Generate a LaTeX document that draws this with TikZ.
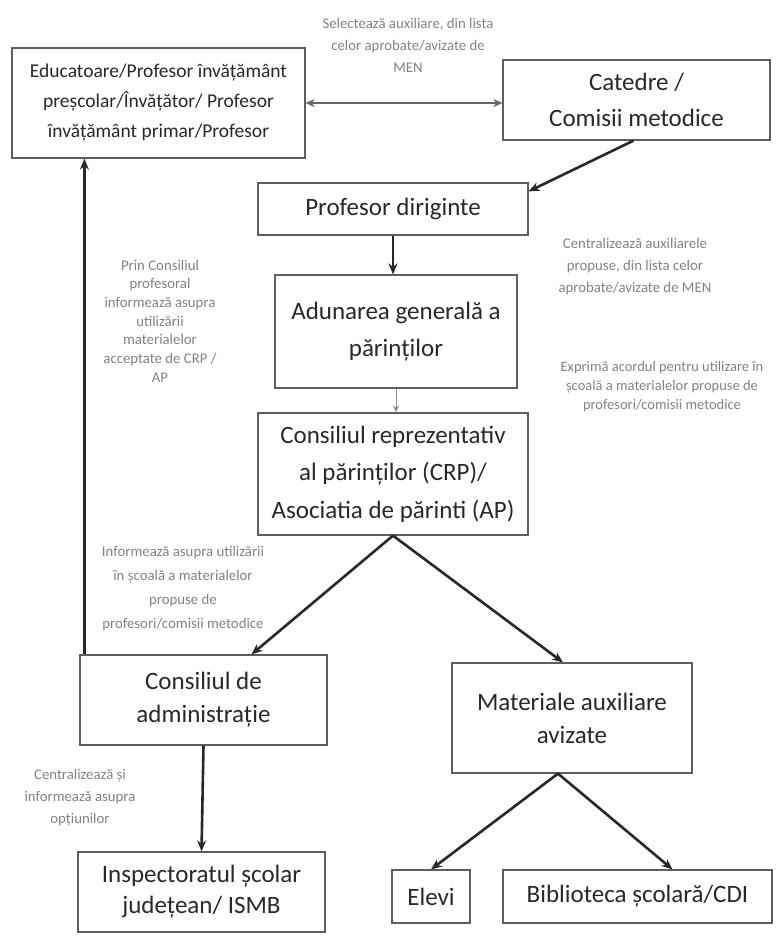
\documentclass[tikz,border=0pt]{standalone}
\usepackage{fontspec}
\setmainfont{Carlito}
\usepackage{tikz}
\usetikzlibrary{arrows.meta, positioning}
\definecolor{boxline}{HTML}{5E5E5E}
\definecolor{inkdark}{HTML}{262926}
\definecolor{notegray}{HTML}{828282}

\begin{document}
\begin{tikzpicture}[
  x=1pt, y=-1pt,
  unit/.style={rectangle, draw=boxline, line width=1.2pt, inner sep=0pt, align=center,
    text=inkdark, font=\fontsize{25}{37.5}\selectfont},
  note/.style={align=center, text=notegray, font=\fontsize{14.8}{22}\selectfont},
  arrow/.style={-{Stealth[length=11pt, width=9pt]}, line width=2.6pt, draw=inkdark},
  twoway/.style={{Stealth[length=9pt, width=8pt]}-{Stealth[length=9pt, width=8pt]}, line width=2.2pt, draw=black!60},
  faint/.style={-{Stealth[length=7pt, width=6pt]}, line width=1pt, draw=black!45}
]
\useasboundingbox (0,0) rectangle (777,942);
\node[unit, minimum width=293pt, minimum height=110pt, font=\fontsize{19.5}{30}\selectfont] (edu) at (158.5,103)
  {Educatoare/Profesor învățământ\\preșcolar/Învățător/ Profesor\\învățământ primar/Profesor};
\node[unit, minimum width=267pt, minimum height=80pt, font=\fontsize{25}{36}\selectfont] (cat) at (636.5,100) {Catedre /\\Comisii metodice};
\node[unit, minimum width=270pt, minimum height=52pt] (dir) at (393,209) {Profesor diriginte};
\node[unit, minimum width=242pt, minimum height=113pt] (adun) at (396,331.5) {Adunarea generală a\\părinților};
\node[unit, minimum width=270pt, minimum height=122pt] (crp) at (393,474)
  {Consiliul reprezentativ\\al părinților (CRP)/\\Asociatia de părinti (AP)};
\node[unit, minimum width=247pt, minimum height=90pt, font=\fontsize{25}{33}\selectfont] (ca) at (203.5,700) {Consiliul de\\administrație};
\node[unit, minimum width=240pt, minimum height=110pt, font=\fontsize{25}{33}\selectfont] (mat) at (572,718) {Materiale auxiliare\\avizate};
\node[unit, minimum width=247pt, minimum height=80pt, font=\fontsize{25}{31}\selectfont] (isj) at (201.5,892) {Inspectoratul școlar\\județean/ ISMB};
\node[unit, minimum width=78pt, minimum height=53pt] (elevi) at (431,896.5) {Elevi};
\node[unit, minimum width=269pt, minimum height=53pt] (bib) at (637.5,896.5) {Biblioteca școlară/CDI};
\node[note] (n1) at (408,45) {Selectează auxiliare, din lista\\celor aprobate/avizate de\\MEN};
\node[note] (n2) at (635,267) {Centralizează auxiliarele\\propuse, din lista celor\\aprobate/avizate de MEN};
\node[note, font=\fontsize{14.8}{18.7}\selectfont] (n3) at (160,321)
  {Prin Consiliul\\profesoral\\informează asupra\\utilizării\\materialelor\\acceptate de CRP /\\AP};
\node[note, font=\fontsize{14.5}{19}\selectfont] (n4) at (662,387)
  {Exprimă acordul pentru utilizare în\\școală a materialelor propuse de\\profesori/comisii metodice};
\node[note, font=\fontsize{14.8}{24}\selectfont] (n5) at (183,589)
  {Informează asupra utilizării\\în școală a materialelor\\propuse de\\profesori/comisii metodice};
\node[note] (n6) at (80,798) {Centralizează și\\informează asupra\\opțiunilor};
\draw[twoway] (edu.east) -- (edu.east -| cat.west);
\draw[arrow] ([xshift=-3pt]cat.south) -- ([yshift=-9pt]dir.north east);
\draw[arrow] (dir.south) -- (dir.south |- adun.north);
\draw[faint] (adun.south) -- (adun.south |- crp.north);
\draw[arrow] (crp.south) -- ([xshift=48pt]ca.north); \draw[arrow] (crp.south) -- ([xshift=-9pt]mat.north);
\draw[arrow] ([xshift=5pt]ca.north west) -- ([xshift=5pt]ca.north west |- edu.south);
\draw[arrow] (ca.south) -- (isj.north);
\draw[arrow] ([xshift=-14pt]mat.south) -- (elevi.north); \draw[arrow] ([xshift=-14pt]mat.south) -- ([xshift=35pt]bib.north);
\end{tikzpicture}
\end{document}
